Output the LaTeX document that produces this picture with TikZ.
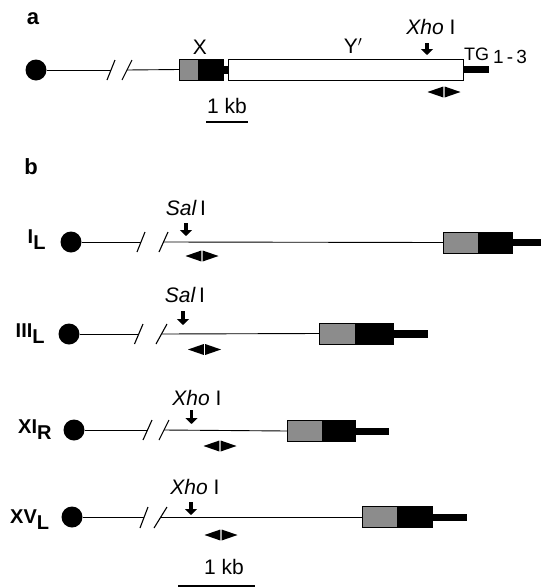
\documentclass[tikz,border=0pt]{standalone}
\usepackage{fontspec}
\setmainfont{Liberation Sans}
\usetikzlibrary{arrows.meta}
\tikzset{
  cen/.style={circle, fill=black, inner sep=0pt, minimum size=21pt},
  chrline/.style={line width=0.9pt},
  brk/.style={line width=1.1pt},
  graybox/.style={fill=black!45, draw=black, line width=0.5pt, inner sep=0pt, minimum height=21pt, anchor=west},
  blackbox/.style={fill=black, draw=black, line width=0.5pt, inner sep=0pt, minimum height=21pt, anchor=west},
  tailbox/.style={fill=black, inner sep=0pt, minimum height=7pt, anchor=west},
  whitebox/.style={fill=white, draw=black, line width=0.9pt, inner sep=0pt, minimum height=21pt, anchor=west},
  downarr/.style={line width=3.2pt, -{Triangle[length=6pt, width=12pt]}},
  lbl/.style={font=\fontsize{21}{21}\selectfont, inner sep=0pt},
  rowlbl/.style={font=\fontsize{20}{20}\selectfont\bfseries, inner sep=0pt, anchor=base west},
  panel/.style={font=\fontsize{22}{22}\selectfont\bfseries, inner sep=0pt},
  scalebar/.style={line width=2.4pt},
  dblarrow/.pic={
    \fill (-0.6,-5.5) -- (-16.5,0) -- (-0.6,5.5) -- cycle;
    \fill (0.6,-5.5) -- (16.5,0) -- (0.6,5.5) -- cycle;
  }
}
\newcommand{\rlab}[2]{#1\raisebox{-6pt}{#2}}
\begin{document}
\begin{tikzpicture}[x=1pt, y=-1pt]
\useasboundingbox (0,0) rectangle (541,587);

% ---------- panel a ----------
\node[panel] (pa) at (33,18.5) {a};
\node[cen] (ca) at (36,70) {};
\coordinate (a1) at (111,70);
\coordinate (a2) at (127,70);
\draw[brk] (107,80) -- (115,60);
\draw[brk] (122,80) -- (132,60);
\node[graybox, minimum width=19pt] (ga) at (179,69.5) {};
\node[blackbox, minimum width=24pt] (ka) at (ga.east) {};
\node[tailbox, minimum width=6pt, minimum height=8pt] (ja) at (ka.east) {};
\node[whitebox, minimum width=235pt] (ya) at (228,69.5) {};
\node[tailbox, minimum width=25pt, minimum height=7pt] (ta) at (ya.east) {};
\draw[chrline] (ca) -- (a1);
\draw[chrline] (a2) -- (ga.west);
\node[lbl] (xa) at (200,47) {X};
\node[lbl] (ylab) at (353,46) {Y$'$};
\node[lbl] (xhoa) at (431,27) {\textit{Xho} I};
\draw[downarr] (427,43) -- (427,55);
\node[lbl, anchor=base west] (tg) at (464,60) {{\fontsize{18}{18}\selectfont TG}\hspace{4pt}\raisebox{-3pt}{\fontsize{19}{19}\selectfont 1\,-\,3}};
\pic at (444,92) {dblarrow};
\node[lbl] (kba) at (227,106) {1 kb};
\draw[scalebar] (206,122) -- (248,122);

% ---------- panel b ----------
\node[panel] (pb) at (31,167) {b};

% row I_L
\node[rowlbl] (l1) at (27.5,243.5) {\rlab{I}{L}};
\node[cen] (c1) at (71,242) {};
\coordinate (b1) at (141,242);
\coordinate (e1) at (163.5,242);
\draw[brk] (137,252) -- (145,232);
\draw[brk] (159,252) -- (168,232);
\node[graybox, minimum width=35pt] (g1) at (443,242.5) {};
\node[blackbox, minimum width=33pt] (k1) at (g1.east) {};
\node[tailbox, minimum width=30pt] (t1) at (k1.east) {};
\draw[chrline] (c1) -- (b1);
\draw[chrline] (e1) -- (g1.west);
\node[lbl] (s1) at (186,207.5) {\textit{Sal}\,I};
\draw[downarr] (186,223) -- (186,236);
\pic at (202,256) {dblarrow};

% row III_L
\node[rowlbl] (l2) at (15.5,337.5) {\rlab{III}{L}};
\node[cen] (c2) at (69,334) {};
\coordinate (b2) at (138.75,334);
\coordinate (e2) at (161.5,334);
\draw[brk] (134.5,344) -- (143,324);
\draw[brk] (156,344) -- (167,324);
\node[graybox, minimum width=36pt] (g2) at (319,333.5) {};
\node[blackbox, minimum width=37pt] (k2) at (g2.east) {};
\node[tailbox, minimum width=35pt, minimum height=8pt] (t2) at (k2.east) {};
\draw[chrline] (c2) -- (b2);
\draw[chrline] (e2) -- (g2.west);
\node[lbl] (s2) at (185,295) {\textit{Sal}\,I};
\draw[downarr] (183,311) -- (183,325);
\pic at (204.5,349.5) {dblarrow};

% row XI_R
\node[rowlbl] (l3) at (18,433) {\rlab{XI}{R}};
\node[cen] (c3) at (74,430) {};
\coordinate (b3) at (147.5,430);
\coordinate (e3) at (164,430);
\draw[brk] (143,440) -- (152,420);
\draw[brk] (159,440) -- (169,420);
\node[graybox, minimum width=35pt] (g3) at (287,431) {};
\node[blackbox, minimum width=32pt] (k3) at (g3.east) {};
\node[tailbox, minimum width=34pt] (t3) at (k3.east) {};
\draw[chrline] (c3) -- (b3);
\draw[chrline] (e3) -- (g3.west);
\node[lbl] (s3) at (197,398) {\textit{Xho} I};
\draw[downarr] (191.5,410) -- (191.5,424);
\pic at (220,446) {dblarrow};

% row XV_L
\node[rowlbl] (l4) at (10,523) {\rlab{XV}{L}};
\node[cen] (c4) at (72,517) {};
\coordinate (b4) at (144,517);
\coordinate (e4) at (160.5,517);
\draw[brk] (140,528) -- (148,507);
\draw[brk] (154,528) -- (167,507);
\node[graybox, minimum width=35pt] (g4) at (362,517) {};
\node[blackbox, minimum width=34pt] (k4) at (g4.east) {};
\node[tailbox, minimum width=35pt] (t4) at (k4.east) {};
\draw[chrline] (c4) -- (b4);
\draw[chrline] (e4) -- (g4.west);
\node[lbl] (s4) at (195,487) {\textit{Xho} I};
\draw[downarr] (191,502) -- (191,515);
\pic at (221,535) {dblarrow};

\node[lbl] (kbb) at (224,567) {1 kb};
\draw[scalebar] (178,586) -- (255,586);
\end{tikzpicture}
\end{document}
